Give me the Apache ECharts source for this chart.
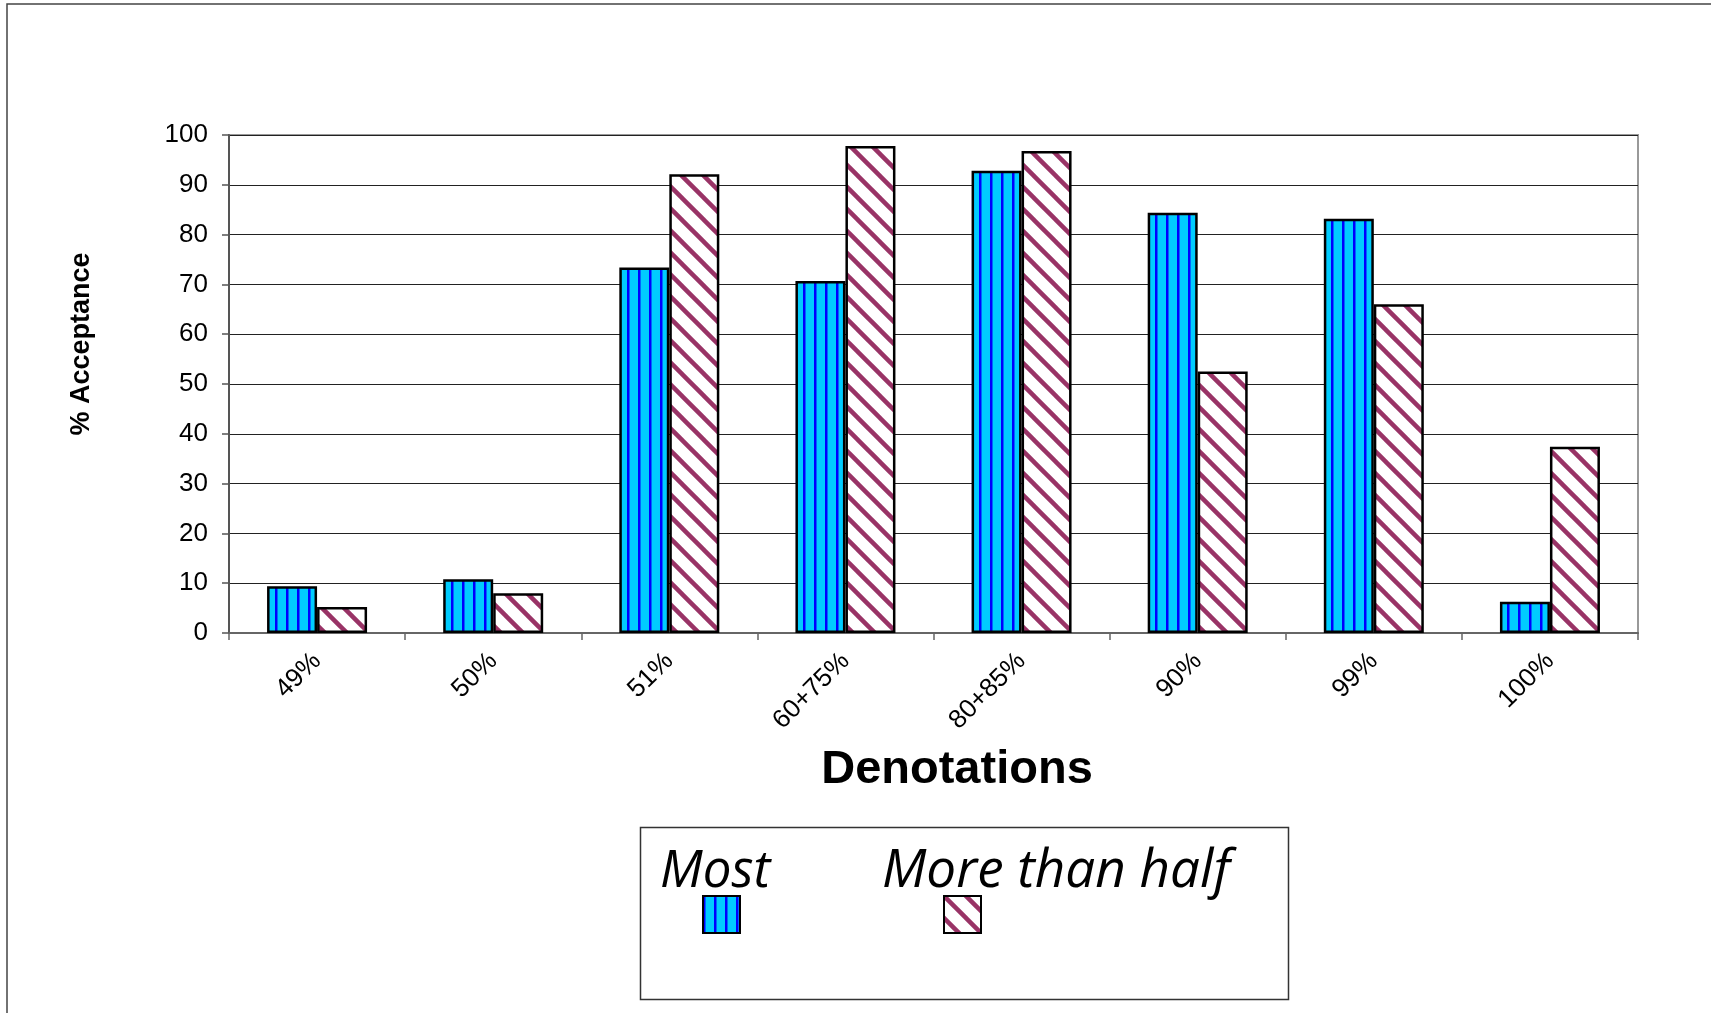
<!DOCTYPE html>
<html>
<head>
<meta charset="utf-8">
<title>% Acceptance by Denotation</title>
<script src="https://cdn.jsdelivr.net/npm/echarts@6/dist/echarts.min.js"></script>
<style>
  html, body { margin: 0; padding: 0; background: #fff; }
  #chart { width: 1711px; height: 1013px; }
</style>
</head>
<body>
<div id="chart"></div>
<script>
// Denotation categories on the x axis
const categories = ['49%', '50%', '51%', '60+75%', '80+85%', '90%', '99%', '100%'];
// % acceptance per quantifier
const mostValues = [9.4, 10.8, 73.4, 70.7, 92.8, 84.4, 83.2, 6.3];
const moreThanHalfValues = [5.2, 8.0, 92.1, 97.8, 96.8, 52.5, 66.0, 37.4];
// Series names
const seriesNames = ['Most', 'More than half'];
// Value axis range
const yMin = 0, yMax = 100, yStep = 10;

// Hatch fills: vertical blue stripes on cyan, diagonal plum stripes on white
function verticalStripes() {
  const c = document.createElement('canvas');
  c.width = 11; c.height = 11;
  const g = c.getContext('2d');
  g.fillStyle = '#00CCFF';
  g.fillRect(0, 0, 11, 11);
  g.fillStyle = '#0000FF';
  g.fillRect(0, 0, 2.5, 11);
  return c;
}
function diagonalStripes() {
  const p = 22;
  const c = document.createElement('canvas');
  c.width = p; c.height = p;
  const g = c.getContext('2d');
  g.fillStyle = '#FFFFFF';
  g.fillRect(0, 0, p, p);
  g.strokeStyle = '#993366';
  g.lineWidth = 4.5;
  for (let k = -1; k <= 1; k++) {
    g.beginPath();
    g.moveTo(k * p - 2, -2);
    g.lineTo(k * p + p + 2, p + 2);
    g.stroke();
  }
  return c;
}
const mostFill = { image: verticalStripes(), repeat: 'repeat' };
const halfFill = { image: diagonalStripes(), repeat: 'repeat' };

const chart = echarts.init(document.getElementById('chart'), null, { renderer: 'canvas' });

const option = {
  backgroundColor: '#fff',
  animation: false,
  grid: {
    left: 229, right: 73, top: 135, bottom: 380,
    show: true, borderColor: '#999', borderWidth: 2, backgroundColor: 'transparent'
  },
  xAxis: {
    type: 'category',
    data: categories,
    axisLine: { lineStyle: { color: '#666', width: 2 } },
    axisTick: { show: true, length: 7, lineStyle: { color: '#666', width: 1.5 } },
    axisLabel: {
      rotate: 45, margin: 24, color: '#000',
      fontFamily: 'Liberation Sans, Arial, sans-serif', fontSize: 26
    },
    splitLine: { show: false }
  },
  yAxis: {
    type: 'value',
    min: yMin, max: yMax, interval: yStep,
    axisLine: { show: true, lineStyle: { color: '#555', width: 2 } },
    axisTick: { show: true, length: 7, lineStyle: { color: '#555', width: 1.5 } },
    axisLabel: {
      margin: 21, color: '#000',
      fontFamily: 'Liberation Sans, Arial, sans-serif', fontSize: 26
    },
    splitLine: { show: true, lineStyle: { color: '#222', width: 1.2 } }
  },
  legend: [
    {
      data: [seriesNames[0]], left: 702, top: 895, padding: 0,
      itemWidth: 37, itemHeight: 37, icon: 'rect', selectedMode: false,
      formatter: () => ''
    },
    {
      data: [seriesNames[1]], left: 943, top: 895, padding: 0,
      itemWidth: 37, itemHeight: 37, icon: 'rect', selectedMode: false,
      formatter: () => ''
    }
  ],
  series: [
    {
      name: seriesNames[0], type: 'bar', data: mostValues,
      barWidth: 50, barGap: '0%',
      itemStyle: { color: mostFill, borderColor: '#000', borderWidth: 2.5 }
    },
    {
      name: seriesNames[1], type: 'bar', data: moreThanHalfValues,
      barWidth: 50, barGap: '0%',
      itemStyle: { color: halfFill, borderColor: '#000', borderWidth: 2.5 }
    }
  ],
  graphic: [
    // outer frame (top and left edges)
    {
      type: 'polyline', silent: true,
      shape: { points: [[7, 1013], [7, 4], [1711, 4]] },
      style: { stroke: '#444', lineWidth: 1.5, fill: null }
    },
    // axis titles
    {
      type: 'text', x: 82, y: 344, rotation: Math.PI / 2,
      style: {
        text: '% Acceptance', fill: '#000', align: 'center', verticalAlign: 'middle',
        font: 'bold 27px "Liberation Sans", Arial, sans-serif'
      }
    },
    {
      type: 'text', x: 957, y: 770,
      style: {
        text: 'Denotations', fill: '#000', align: 'center', verticalAlign: 'middle',
        font: 'bold 47px "Liberation Sans", Arial, sans-serif'
      }
    },
    // legend box and labels
    {
      type: 'rect', silent: true,
      shape: { x: 640.5, y: 827.5, width: 648, height: 172 },
      style: { stroke: '#333', lineWidth: 1.5, fill: null }
    },
    {
      type: 'text', x: 660, y: 872,
      style: {
        text: seriesNames[0], fill: '#000', align: 'left', verticalAlign: 'middle',
        font: 'italic 51px "Open Sans", sans-serif'
      }
    },
    {
      type: 'text', x: 882, y: 872,
      style: {
        text: seriesNames[1], fill: '#000', align: 'left', verticalAlign: 'middle',
        font: 'italic 53px "Open Sans", sans-serif'
      }
    }
  ]
};

chart.setOption(option);
</script>
</body>
</html>
